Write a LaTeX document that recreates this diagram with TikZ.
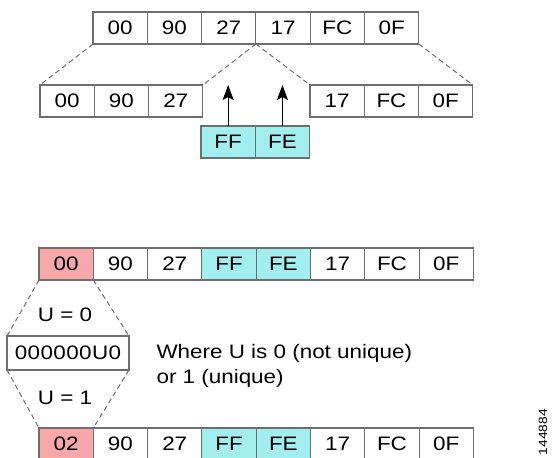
\documentclass[tikz,border=0pt]{standalone}
\usepackage{fontspec}
\setmainfont{Liberation Sans}[FakeStretch=1.15]
\usetikzlibrary{positioning,arrows.meta}

\definecolor{ubitred}{RGB}{248,168,168}
\definecolor{fffecyan}{RGB}{160,238,238}
\definecolor{boxline}{RGB}{110,110,110}

\tikzset{
  byte/.style={draw=boxline, line width=1.1pt, minimum width=54.3pt, minimum height=32pt,
    inner sep=0pt, outer sep=0pt},
  ins/.style={byte, fill=fffecyan},
  ubit/.style={byte, fill=ubitred},
  split/.style={draw=boxline, line width=1pt, dash pattern=on 5pt off 3.5pt},
  push/.style={-{Stealth[length=15pt,width=11pt,inset=3pt]}, line width=1.2pt}
}

\begin{document}
\begin{tikzpicture}[x=1pt, y=-1pt, node distance=0pt,
    font=\fontsize{19.5}{25}\selectfont]
\useasboundingbox (0,0) rectangle (552,458);
\clip (0,0) rectangle (552,458);

% MAC address
\node (t1) [byte, anchor=north west] at (93,12) {00};
\node (t2) [byte, right=of t1] {90};
\node (t3) [byte, right=of t2] {27};
\node (t4) [byte, right=of t3] {17};
\node (t5) [byte, right=of t4] {FC};
\node (t6) [byte, right=of t5] {0F};

% split in two halves
\node (l1) [byte, anchor=north west] at (40,85) {00};
\node (l2) [byte, right=of l1] {90};
\node (l3) [byte, right=of l2] {27};
\node (r1) [byte, anchor=north west] at (310,85) {17};
\node (r2) [byte, right=of r1] {FC};
\node (r3) [byte, right=of r2] {0F};

\node (ff) [ins, anchor=north west] at (201,126) {FF};
\node (fe) [ins, right=of ff] {FE};

\draw[split] (t1.south west) -- (l1.north west);
\draw[split] (t3.south east) -- (l3.north east);
\draw[split] (t3.south east) -- (r1.north west);
\draw[split] (t6.south east) -- (r3.north east);
\draw[push] (ff) -- (ff |- l3.north);
\draw[push] (fe) -- (fe |- l3.north);

% EUI-64 before the U bit
\node (m1) [ubit, anchor=north west] at (39,248) {00};
\node (m2) [byte, right=of m1] {90};
\node (m3) [byte, right=of m2] {27};
\node (m4) [ins, right=of m3] {FF};
\node (m5) [ins, right=of m4] {FE};
\node (m6) [byte, right=of m5] {17};
\node (m7) [byte, right=of m6] {FC};
\node (m8) [byte, right=of m7] {0F};

\node (ubox) [byte, minimum width=122pt, minimum height=34pt, anchor=north west]
  at (7,336) {\addfontfeature{LetterSpace=2}000000U0};
\node (u0) at (65,315) {U = 0};
\node (u1) at (65,398) {U = 1};
\node (note) [anchor=west, align=left] at (153,366) {Where U is 0 (not unique)\\or 1 (unique)};

% EUI-64 after the U bit
\node (b1) [ubit, anchor=north west] at (39,428) {02};
\node (b2) [byte, right=of b1] {90};
\node (b3) [byte, right=of b2] {27};
\node (b4) [ins, right=of b3] {FF};
\node (b5) [ins, right=of b4] {FE};
\node (b6) [byte, right=of b5] {17};
\node (b7) [byte, right=of b6] {FC};
\node (b8) [byte, right=of b7] {0F};

\draw[split] (m1.south west) -- (ubox.north west);
\draw[split] (m1.south east) -- (ubox.north east);
\draw[split] (ubox.south west) -- (b1.north west);
\draw[split] (ubox.south east) -- (b1.north east);

\node (fig) [rotate=90, font=\fontsize{12}{12}\selectfont] at (543,432) {144884};
\end{tikzpicture}
\end{document}
